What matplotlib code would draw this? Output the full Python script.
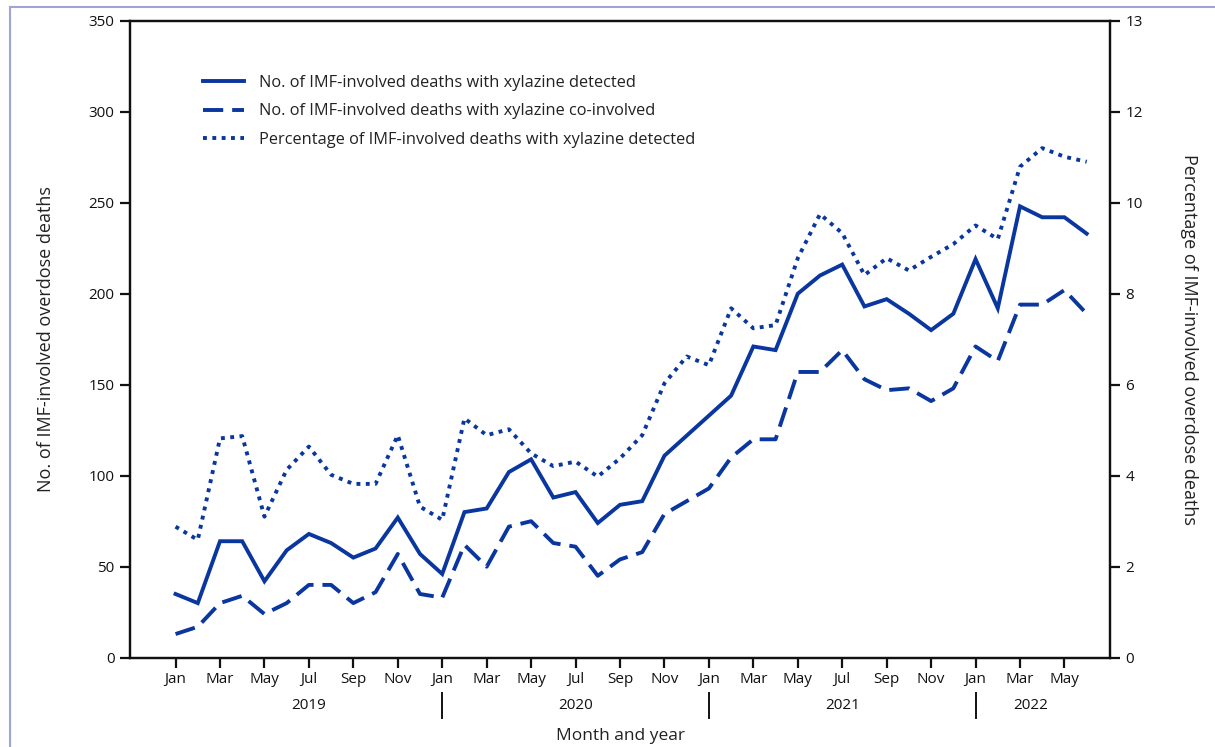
import matplotlib
matplotlib.use("Agg")
import matplotlib.pyplot as plt
from matplotlib.patches import Rectangle

plt.rcParams['font.family'] = ['Open Sans', 'DejaVu Sans']

# Monthly series, Jan 2019 - Jun 2022
months = ["Jan", "Feb", "Mar", "Apr", "May", "Jun", "Jul", "Aug", "Sep", "Oct", "Nov", "Dec"]
years = ["2019", "2020", "2021", "2022"]

deaths_detected = [35, 30, 64, 64, 42, 59, 68, 63, 55, 60, 77, 57,
                   46, 80, 82, 102, 109, 88, 91, 74, 84, 86, 111, 122,
                   133, 144, 171, 169, 200, 210, 216, 193, 197, 189, 180, 189,
                   219, 192, 248, 242, 242, 233]
deaths_coinvolved = [13, 17, 30, 34, 24, 30, 40, 40, 30, 36, 57, 35,
                     33, 62, 50, 72, 75, 63, 61, 45, 54, 58, 79, 86,
                     93, 110, 120, 120, 157, 157, 169, 153, 147, 148, 141, 148,
                     171, 163, 194, 194, 202, 189]
pct_detected = [2.88, 2.59, 4.82, 4.87, 3.10, 4.13, 4.64, 4.02, 3.82, 3.82, 4.89, 3.32,
                3.03, 5.26, 4.89, 5.02, 4.49, 4.21, 4.31, 3.98, 4.38, 4.89, 6.03, 6.62,
                6.43, 7.68, 7.24, 7.31, 8.78, 9.75, 9.33, 8.41, 8.78, 8.51, 8.81, 9.09,
                9.50, 9.20, 10.79, 11.20, 11.01, 10.90]

left_ticks = [0, 50, 100, 150, 200, 250, 300, 350]
right_ticks = [0, 2, 4, 6, 8, 10, 12, 14]
right_ticklabels = ["0", "2", "4", "6", "8", "10", "12", "13"]

series_labels = ["No. of IMF-involved deaths with xylazine detected",
                 "No. of IMF-involved deaths with xylazine co-involved",
                 "Percentage of IMF-involved deaths with xylazine detected"]

blue = "#0a36a0"
ink = "#111111"
n = len(deaths_detected)
x = list(range(n))

fig = plt.figure(figsize=(12.15, 7.47), dpi=100)
ax = fig.add_axes([130 / 1215, 1 - 657.7 / 747, (1110 - 130) / 1215, (657.7 - 20.7) / 747])
ax2 = ax.twinx()

l1, = ax.plot(x, deaths_detected, color=blue, lw=2.8, solid_joinstyle="miter")
l2, = ax.plot(x, deaths_coinvolved, color=blue, lw=2.8, dashes=(5.2, 2.3))
l3, = ax2.plot(x, pct_detected, color=blue, lw=2.8, dashes=(1.0, 1.4))

ax.set_xlim(-2.05, 42.05)
ax.set_ylim(0, 350)
ax2.set_ylim(0, 14)

ax.set_yticks(left_ticks)
ax.set_yticklabels([str(v) for v in left_ticks])
ax2.set_yticks(right_ticks)
ax2.set_yticklabels(right_ticklabels)

tick_pos = [i for i in range(n) if i % 2 == 0]
ax.set_xticks(tick_pos)
ax.set_xticklabels([months[i % 12] for i in tick_pos])

for a in (ax, ax2):
    for s in a.spines.values():
        s.set_linewidth(1.6)
        s.set_color(ink)
    a.tick_params(axis="both", direction="out", length=7, width=1.6,
                  labelsize=11, colors=ink, pad=4)
ax.tick_params(axis="x", pad=3)

# Year labels and separators beneath the month labels
year_centers = [6, 18, 30, 38.5]
for yr, cx in zip(years, year_centers):
    ax.text(cx, -26, yr, ha="center", va="center", fontsize=11, color=ink)
for sep in (12, 24, 36):
    ax.plot([sep, sep], [-19.4, -33.1], color=ink, lw=1.4, clip_on=False)

ax.set_xlabel("Month and year", fontsize=12.5, color="#222222", labelpad=30)
ax.set_ylabel("No. of IMF-involved overdose deaths", fontsize=13, color="#222222", labelpad=24)
ax2.set_ylabel("Percentage of IMF-involved overdose deaths", fontsize=13, color="#222222",
               rotation=270, labelpad=27, va="bottom")

leg = ax.legend([l1, l2, l3], series_labels, loc="upper left",
                bbox_to_anchor=(0.068, 0.925), frameon=False, fontsize=11.8,
                handlelength=2.5, handletextpad=0.9, labelspacing=0.75,
                borderaxespad=0)
for t in leg.get_texts():
    t.set_color("#222222")

# Thin frame around the figure
fig.patches.append(Rectangle((10 / 1215, -0.05), 1.1, 1 - 7 / 747 + 0.05,
                             transform=fig.transFigure, fill=False,
                             edgecolor="#9ea3dc", lw=1.5))

fig.savefig("out.png", dpi=100)
